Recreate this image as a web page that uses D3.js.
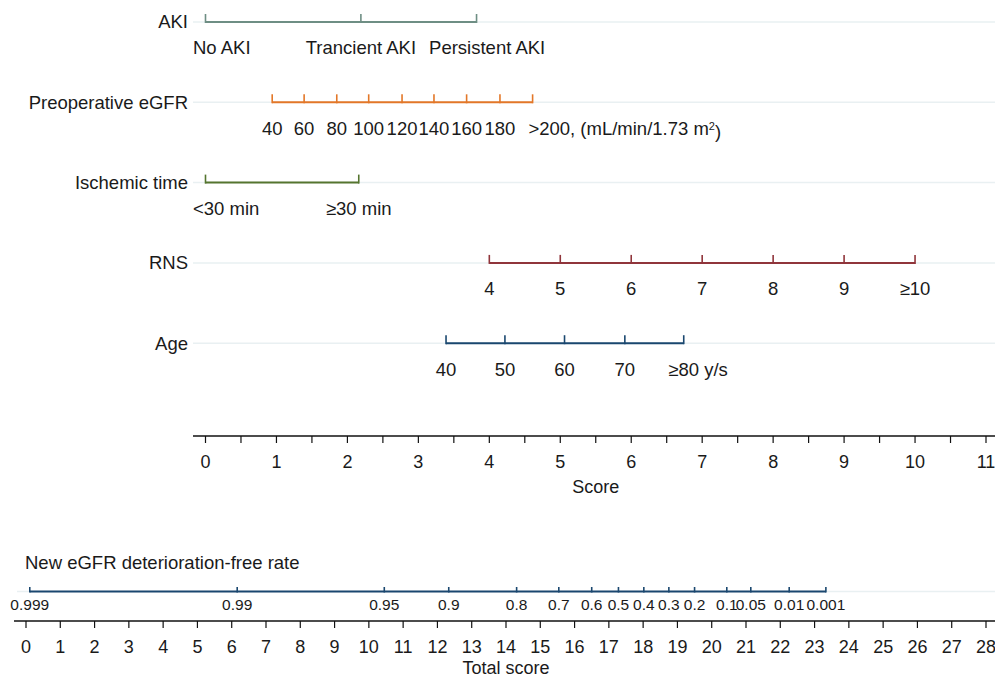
<!DOCTYPE html>
<meta charset="utf-8">
<title>nomogram, eGFR deterioration</title>

<style>
body {
   margin: 0;
   background: white;
}
text {
   font-family: "Liberation Sans", Arial, sans-serif;
   fill: #1a1a1a;
}
</style>

<body>
<script src="https://cdnjs.cloudflare.com/ajax/libs/d3/7.8.5/d3.min.js"></script>
<script>

////*Data*////
const rowNames = ["AKI", "Preoperative eGFR", "Ischemic time", "RNS", "Age"];

const akiLabels = ["No AKI", "Trancient AKI", "Persistent AKI"];
const akiPoints = [0, 2.19, 3.82];

const egfrLabels = ["40", "60", "80", "100", "120", "140", "160", "180", ">200"];
const egfrPoints = [0.94, 1.39, 1.85, 2.30, 2.77, 3.22, 3.68, 4.15, 4.61];

const ischemicLabels = ["<30 min", "≥30 min"];
const ischemicPoints = [0, 2.16];

const rnsLabels = ["4", "5", "6", "7", "8", "9", "≥10"];
const rnsPoints = [4, 5, 6, 7, 8, 9, 10];

const ageLabels = ["40", "50", "60", "70", "≥80"];
const agePoints = [3.39, 4.22, 5.06, 5.91, 6.74];

const scoreTicks = [0, 1, 2, 3, 4, 5, 6, 7, 8, 9, 10, 11];
const totalTicks = [0, 1, 2, 3, 4, 5, 6, 7, 8, 9, 10, 11, 12, 13, 14, 15, 16, 17, 18, 19, 20, 21, 22, 23, 24, 25, 26, 27, 28];

const probLabels = ["0.999", "0.99", "0.95", "0.9", "0.8", "0.7", "0.6", "0.5", "0.4", "0.3", "0.2", "0.1", "0.05", "0.01", "0.001"];
const probPoints = [0.11, 6.16, 10.45, 12.33, 14.31, 15.54, 16.50, 17.28, 18.02, 18.75, 19.50, 20.44, 21.14, 22.26, 23.33];

//Stata s2color palette: teal, dkorange, forest_green, maroon, navy
const rowColors = ["#6e8e84", "#e37728", "#55752f", "#90353b", "#1a476f"];

////*Layout*////
const plotVars = ({
   width: 995,
   height: 680,
   rowTop: 22,        // y of first variable line
   rowStep: 80.3,     // spacing of variable lines
   gridLeft: 193,     // start of the light grid lines
   labelRight: 188,   // right edge of the variable names
   scoreY: 436,
   probY: 591.5,
   totalY: 621,
   fontSize: "18.5px",
   axisFontSize: "18px"
});

const rows = [
   {labels: akiLabels, points: akiPoints},
   {labels: egfrLabels, points: egfrPoints, suffix: ", (mL/min/1.73 m", sup: "2", close: ")"},
   {labels: ischemicLabels, points: ischemicPoints},
   {labels: rnsLabels, points: rnsPoints},
   {labels: ageLabels, points: agePoints, suffix: "\u00a0y/s"}
];

let xScore = d3.scaleLinear().domain([0, 11]).range([205.5, 986]);
let xTotal = d3.scaleLinear().domain([0, 28]).range([26, 986]);

let svg = d3.select("body").append("svg")
   .attr("width", plotVars.width)
   .attr("height", plotVars.height);

const gridColor = "#e9f0f2";

function drawRow(row, i) {
   const y = plotVars.rowTop + i * plotVars.rowStep;
   const color = rowColors[i];
   const g = svg.append("g").attr("class", "row-" + i);

   //faint grid line behind the scale
   g.append("line")
      .attr("x1", plotVars.gridLeft).attr("x2", plotVars.width)
      .attr("y1", y).attr("y2", y)
      .attr("stroke", gridColor).attr("stroke-width", 1.5);

   g.append("text")
      .attr("x", plotVars.labelRight)
      .attr("y", y)
      .attr("dy", "0.35em")
      .attr("text-anchor", "end")
      .style("font-size", plotVars.fontSize)
      .text(rowNames[i]);

   const xs = row.points.map(p => xScore(p));

   g.append("line")
      .attr("x1", d3.min(xs)).attr("x2", d3.max(xs))
      .attr("y1", y).attr("y2", y)
      .attr("stroke", color).attr("stroke-width", 2);

   g.selectAll(".tick")
      .data(xs)
      .join("line")
      .attr("class", "tick")
      .attr("x1", d => d).attr("x2", d => d)
      .attr("y1", y + 1).attr("y2", y - 8)
      .attr("stroke", color).attr("stroke-width", 1.6);

   //tick labels: centred, kept inside; the last one keeps some room from its neighbour
   let prevEnd = -Infinity;
   const last = row.labels.length - 1;
   row.labels.forEach(function(lab, k) {
      const t = g.append("text")
         .attr("y", y + 26)
         .attr("dy", "0.35em")
         .style("font-size", plotVars.fontSize)
         .text(lab);
      const w = t.node().getComputedTextLength();
      let x0 = Math.max(xs[k] - w / 2, plotVars.gridLeft);
      if (k === last && k > 0) x0 = Math.max(x0, prevEnd + 13);
      t.attr("x", x0);
      prevEnd = x0 + w;
      if (k === last && row.suffix) {
         const s = g.append("text")
            .attr("x", prevEnd)
            .attr("y", y + 26)
            .attr("dy", "0.35em")
            .style("font-size", plotVars.fontSize)
            .text(row.suffix);
         if (row.sup) {
            s.append("tspan")
               .attr("dy", "-0.45em")
               .style("font-size", "11px")
               .text(row.sup);
            s.append("tspan")
               .attr("dy", "0.45em")
               .text(row.close);
         }
      }
   });
}

rows.forEach(drawRow);

//Score axis and total score axis
function drawPointsAxis(scale, y, ticks, left, title, step, titleGap) {
   const g = svg.append("g");
   g.append("line")
      .attr("x1", left).attr("x2", plotVars.width)
      .attr("y1", y).attr("y2", y)
      .attr("stroke", "#111").attr("stroke-width", 1.5);

   const dom = scale.domain();
   g.selectAll(".mtick")
      .data(d3.range(dom[0], dom[1] + step / 2, step))
      .join("line")
      .attr("x1", d => scale(d)).attr("x2", d => scale(d))
      .attr("y1", y).attr("y2", y + 7)
      .attr("stroke", "#111").attr("stroke-width", 1.2);

   g.selectAll(".tlab")
      .data(ticks)
      .join("text")
      .attr("x", d => scale(d))
      .attr("y", y + 26)
      .attr("dy", "0.35em")
      .attr("text-anchor", "middle")
      .style("font-size", plotVars.axisFontSize)
      .text(d => d);

   g.append("text")
      .attr("x", (scale.range()[0] + scale.range()[1]) / 2)
      .attr("y", y + titleGap)
      .attr("dy", "0.35em")
      .attr("text-anchor", "middle")
      .style("font-size", plotVars.axisFontSize)
      .text(title);
}

drawPointsAxis(xScore, plotVars.scoreY, scoreTicks, plotVars.gridLeft, "Score", 0.5, 51);
drawPointsAxis(xTotal, plotVars.totalY, totalTicks, 14, "Total score", 1, 47);

//Probability scale against total score
const probColor = rowColors[4];
svg.append("line")
   .attr("x1", 17).attr("x2", plotVars.width)
   .attr("y1", plotVars.probY).attr("y2", plotVars.probY)
   .attr("stroke", gridColor).attr("stroke-width", 1.5);

svg.append("text")
   .attr("x", 25)
   .attr("y", 563)
   .attr("dy", "0.35em")
   .style("font-size", plotVars.fontSize)
   .text("New eGFR deterioration-free rate");

const px = probPoints.map(p => xTotal(p));
svg.append("line")
   .attr("x1", d3.min(px)).attr("x2", d3.max(px))
   .attr("y1", plotVars.probY).attr("y2", plotVars.probY)
   .attr("stroke", probColor).attr("stroke-width", 2);

svg.selectAll(".ptick")
   .data(px)
   .join("line")
   .attr("x1", d => d).attr("x2", d => d)
   .attr("y1", plotVars.probY + 1).attr("y2", plotVars.probY - 4.5)
   .attr("stroke", probColor).attr("stroke-width", 1.6);

svg.selectAll(".plab")
   .data(probLabels)
   .join("text")
   .attr("x", (d, k) => px[k])
   .attr("y", plotVars.probY + 13)
   .attr("dy", "0.35em")
   .attr("text-anchor", "middle")
   .style("font-size", "15.5px")
   .text(d => d);

</script>
</body>
